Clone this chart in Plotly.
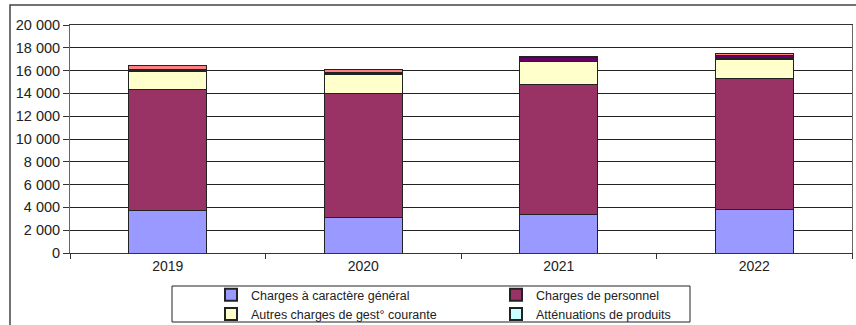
import plotly.graph_objects as go

years = ["2019", "2020", "2021", "2022"]
charges_generales = [3700, 3150, 3360, 3830]
charges_personnel = [10660, 10860, 11380, 11490]
autres_charges = [1560, 1665, 2040, 1670]
attenuations = [70, 110, 30, 90]
charges_financieres = [150, 80, 350, 250]
charges_exceptionnelles = [280, 250, 110, 200]

series = [
    ("Charges à caractère général", charges_generales, "#9999FF", True),
    ("Charges de personnel", charges_personnel, "#993366", True),
    ("Autres charges de gest° courante", autres_charges, "#FFFFCC", True),
    ("Atténuations de produits", attenuations, "#CCFFFF", True),
    ("Charges financières", charges_financieres, "#660066", False),
    ("Charges exceptionnelles", charges_exceptionnelles, "#FF8080", False),
]

fig = go.Figure()
for name, vals, color, show in series:
    fig.add_trace(go.Bar(
        x=years, y=vals, name=name,
        marker=dict(color=color, line=dict(color="#222222", width=1)),
        showlegend=show,
    ))

W, H = 856, 325
ml, mr, mt, mb = 70, 4, 25, 72
pw = W - ml - mr
ph = H - mt - mb

def px(x):
    return (x - ml) / pw

def py(y):
    return (H - mb - y) / ph

fig.update_layout(
    width=W, height=H,
    margin=dict(l=ml, r=mr, t=mt, b=mb, autoexpand=False),
    barmode="stack",
    bargap=0.6,
    plot_bgcolor="white",
    paper_bgcolor="white",
    separators=", ",
    font=dict(family="Liberation Sans, Arial, sans-serif", size=12, color="#222222"),
    showlegend=True,
    legend=dict(
        orientation="h",
        traceorder="normal",
        x=px(211), y=py(280), xanchor="left", yanchor="top",
        entrywidth=240, entrywidthmode="pixels",
        font=dict(size=12.5, color="#222222"),
        bgcolor="rgba(0,0,0,0)",
        itemsizing="constant",
    ),
    xaxis=dict(
        showgrid=False,
        showline=True, linecolor="#333333", linewidth=1, mirror=True,
        ticks="outside", tickson="boundaries", ticklen=5, tickcolor="#333333",
        tickfont=dict(size=14, color="#222222"),
    ),
    yaxis=dict(
        range=[0, 20000],
        dtick=2000,
        tickformat=",d",
        showgrid=True, gridcolor="#222222", gridwidth=1,
        showline=True, linecolor="#666666", linewidth=1, mirror=True,
        ticks="outside", ticklen=6, tickcolor="#333333",
        tickfont=dict(size=14.5, color="#222222"),
        zeroline=False,
    ),
    shapes=[
        dict(type="rect", xref="paper", yref="paper",
             x0=px(10), x1=px(870), y0=py(340), y1=py(5),
             line=dict(color="#444444", width=1.5), layer="below"),
        dict(type="rect", xref="paper", yref="paper",
             x0=px(172), x1=px(690), y0=py(322), y1=py(286),
             line=dict(color="#222222", width=1)),
    ],
)

fig.write_html("out.html")
